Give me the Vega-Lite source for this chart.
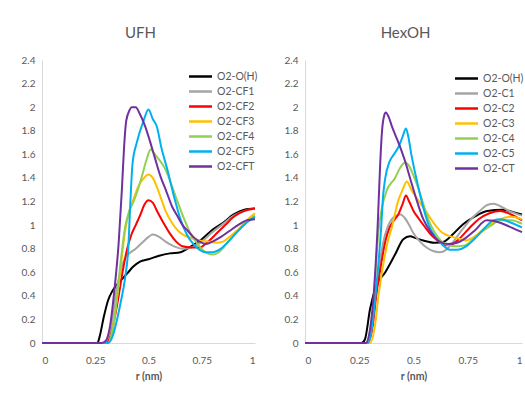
{
  "$schema": "https://vega.github.io/schema/vega-lite/v6.json",
  "padding": {"left": 5, "top": 26, "right": 3, "bottom": 5},
  "bounds": "flush",
  "spacing": 50,
  "config": {
    "view": {"stroke": null},
    "font": "Lato",
    "axis": {"grid": false, "ticks": false, "domainColor": "#D9D9D9", "domainWidth": 1, "labelColor": "#595959", "labelFontSize": 10, "titleColor": "#595959", "labelFont": "Lato", "titleFont": "Lato"},
    "title": {"fontSize": 15, "fontWeight": "normal", "color": "#595959", "font": "Lato", "offset": 14, "dx": -8},
    "legend": {"labelColor": "#595959", "labelFontSize": 10.5, "labelFont": "Lato", "symbolType": "M-1.44,0H1.44", "symbolSize": 256, "symbolStrokeWidth": 2.5, "rowPadding": 0, "labelOffset": 7, "orient": "none", "title": null}
  },
  "datasets": {
    "ufh": [
      {"s":"O2-O(H)","r":0,"g":0},{"s":"O2-O(H)","r":0.26,"g":0},{"s":"O2-O(H)","r":0.27,"g":0.05},{"s":"O2-O(H)","r":0.29,"g":0.22},{"s":"O2-O(H)","r":0.31,"g":0.36},{"s":"O2-O(H)","r":0.33,"g":0.44},{"s":"O2-O(H)","r":0.35,"g":0.49},{"s":"O2-O(H)","r":0.38,"g":0.55},{"s":"O2-O(H)","r":0.4,"g":0.59},{"s":"O2-O(H)","r":0.43,"g":0.65},{"s":"O2-O(H)","r":0.46,"g":0.69},{"s":"O2-O(H)","r":0.5,"g":0.71},{"s":"O2-O(H)","r":0.55,"g":0.74},{"s":"O2-O(H)","r":0.6,"g":0.76},{"s":"O2-O(H)","r":0.65,"g":0.77},{"s":"O2-O(H)","r":0.7,"g":0.82},{"s":"O2-O(H)","r":0.75,"g":0.88},{"s":"O2-O(H)","r":0.8,"g":0.96},{"s":"O2-O(H)","r":0.85,"g":1.02},{"s":"O2-O(H)","r":0.9,"g":1.09},{"s":"O2-O(H)","r":0.95,"g":1.13},{"s":"O2-O(H)","r":1,"g":1.14},
      {"s":"O2-CF1","r":0,"g":0},{"s":"O2-CF1","r":0.29,"g":0},{"s":"O2-CF1","r":0.31,"g":0.05},{"s":"O2-CF1","r":0.33,"g":0.2},{"s":"O2-CF1","r":0.35,"g":0.45},{"s":"O2-CF1","r":0.37,"g":0.62},{"s":"O2-CF1","r":0.39,"g":0.72},{"s":"O2-CF1","r":0.41,"g":0.76},{"s":"O2-CF1","r":0.44,"g":0.8},{"s":"O2-CF1","r":0.47,"g":0.85},{"s":"O2-CF1","r":0.5,"g":0.9},{"s":"O2-CF1","r":0.52,"g":0.92},{"s":"O2-CF1","r":0.55,"g":0.9},{"s":"O2-CF1","r":0.58,"g":0.86},{"s":"O2-CF1","r":0.62,"g":0.82},{"s":"O2-CF1","r":0.66,"g":0.8},{"s":"O2-CF1","r":0.7,"g":0.81},{"s":"O2-CF1","r":0.75,"g":0.86},{"s":"O2-CF1","r":0.8,"g":0.94},{"s":"O2-CF1","r":0.85,"g":1.01},{"s":"O2-CF1","r":0.9,"g":1.08},{"s":"O2-CF1","r":0.95,"g":1.12},{"s":"O2-CF1","r":1,"g":1.14},
      {"s":"O2-CF2","r":0,"g":0},{"s":"O2-CF2","r":0.3,"g":0},{"s":"O2-CF2","r":0.32,"g":0.05},{"s":"O2-CF2","r":0.34,"g":0.2},{"s":"O2-CF2","r":0.36,"g":0.4},{"s":"O2-CF2","r":0.38,"g":0.62},{"s":"O2-CF2","r":0.4,"g":0.8},{"s":"O2-CF2","r":0.42,"g":0.92},{"s":"O2-CF2","r":0.44,"g":1},{"s":"O2-CF2","r":0.46,"g":1.08},{"s":"O2-CF2","r":0.48,"g":1.17},{"s":"O2-CF2","r":0.5,"g":1.21},{"s":"O2-CF2","r":0.52,"g":1.19},{"s":"O2-CF2","r":0.54,"g":1.12},{"s":"O2-CF2","r":0.57,"g":1.02},{"s":"O2-CF2","r":0.6,"g":0.93},{"s":"O2-CF2","r":0.63,"g":0.86},{"s":"O2-CF2","r":0.66,"g":0.82},{"s":"O2-CF2","r":0.7,"g":0.81},{"s":"O2-CF2","r":0.74,"g":0.81},{"s":"O2-CF2","r":0.78,"g":0.86},{"s":"O2-CF2","r":0.82,"g":0.93},{"s":"O2-CF2","r":0.86,"g":1},{"s":"O2-CF2","r":0.9,"g":1.07},{"s":"O2-CF2","r":0.95,"g":1.12},{"s":"O2-CF2","r":1,"g":1.14},
      {"s":"O2-CF3","r":0,"g":0},{"s":"O2-CF3","r":0.31,"g":0},{"s":"O2-CF3","r":0.33,"g":0.1},{"s":"O2-CF3","r":0.35,"g":0.35},{"s":"O2-CF3","r":0.37,"g":0.65},{"s":"O2-CF3","r":0.39,"g":0.95},{"s":"O2-CF3","r":0.41,"g":1.12},{"s":"O2-CF3","r":0.43,"g":1.22},{"s":"O2-CF3","r":0.45,"g":1.32},{"s":"O2-CF3","r":0.47,"g":1.38},{"s":"O2-CF3","r":0.5,"g":1.43},{"s":"O2-CF3","r":0.52,"g":1.4},{"s":"O2-CF3","r":0.54,"g":1.32},{"s":"O2-CF3","r":0.56,"g":1.22},{"s":"O2-CF3","r":0.58,"g":1.12},{"s":"O2-CF3","r":0.61,"g":1.02},{"s":"O2-CF3","r":0.64,"g":0.95},{"s":"O2-CF3","r":0.67,"g":0.91},{"s":"O2-CF3","r":0.7,"g":0.89},{"s":"O2-CF3","r":0.74,"g":0.87},{"s":"O2-CF3","r":0.78,"g":0.86},{"s":"O2-CF3","r":0.82,"g":0.85},{"s":"O2-CF3","r":0.85,"g":0.86},{"s":"O2-CF3","r":0.88,"g":0.9},{"s":"O2-CF3","r":0.92,"g":0.96},{"s":"O2-CF3","r":0.96,"g":1.04},{"s":"O2-CF3","r":1,"g":1.1},
      {"s":"O2-CF4","r":0,"g":0},{"s":"O2-CF4","r":0.31,"g":0},{"s":"O2-CF4","r":0.33,"g":0.1},{"s":"O2-CF4","r":0.35,"g":0.35},{"s":"O2-CF4","r":0.37,"g":0.7},{"s":"O2-CF4","r":0.39,"g":0.98},{"s":"O2-CF4","r":0.41,"g":1.12},{"s":"O2-CF4","r":0.43,"g":1.2},{"s":"O2-CF4","r":0.45,"g":1.3},{"s":"O2-CF4","r":0.47,"g":1.42},{"s":"O2-CF4","r":0.49,"g":1.55},{"s":"O2-CF4","r":0.51,"g":1.64},{"s":"O2-CF4","r":0.53,"g":1.6},{"s":"O2-CF4","r":0.56,"g":1.53},{"s":"O2-CF4","r":0.58,"g":1.47},{"s":"O2-CF4","r":0.61,"g":1.33},{"s":"O2-CF4","r":0.64,"g":1.18},{"s":"O2-CF4","r":0.67,"g":1.04},{"s":"O2-CF4","r":0.7,"g":0.92},{"s":"O2-CF4","r":0.73,"g":0.84},{"s":"O2-CF4","r":0.76,"g":0.78},{"s":"O2-CF4","r":0.8,"g":0.75},{"s":"O2-CF4","r":0.83,"g":0.77},{"s":"O2-CF4","r":0.87,"g":0.85},{"s":"O2-CF4","r":0.91,"g":0.93},{"s":"O2-CF4","r":0.95,"g":1.01},{"s":"O2-CF4","r":1,"g":1.08},
      {"s":"O2-CF5","r":0,"g":0},{"s":"O2-CF5","r":0.31,"g":0},{"s":"O2-CF5","r":0.33,"g":0.05},{"s":"O2-CF5","r":0.35,"g":0.18},{"s":"O2-CF5","r":0.37,"g":0.35},{"s":"O2-CF5","r":0.39,"g":0.55},{"s":"O2-CF5","r":0.405,"g":0.8},{"s":"O2-CF5","r":0.415,"g":1.2},{"s":"O2-CF5","r":0.425,"g":1.52},{"s":"O2-CF5","r":0.445,"g":1.7},{"s":"O2-CF5","r":0.476,"g":1.88},{"s":"O2-CF5","r":0.5,"g":1.98},{"s":"O2-CF5","r":0.52,"g":1.9},{"s":"O2-CF5","r":0.54,"g":1.83},{"s":"O2-CF5","r":0.56,"g":1.66},{"s":"O2-CF5","r":0.59,"g":1.46},{"s":"O2-CF5","r":0.62,"g":1.24},{"s":"O2-CF5","r":0.65,"g":1.05},{"s":"O2-CF5","r":0.68,"g":0.92},{"s":"O2-CF5","r":0.71,"g":0.84},{"s":"O2-CF5","r":0.74,"g":0.79},{"s":"O2-CF5","r":0.77,"g":0.77},{"s":"O2-CF5","r":0.8,"g":0.77},{"s":"O2-CF5","r":0.84,"g":0.8},{"s":"O2-CF5","r":0.88,"g":0.87},{"s":"O2-CF5","r":0.92,"g":0.95},{"s":"O2-CF5","r":0.96,"g":1.02},{"s":"O2-CF5","r":1,"g":1.07},
      {"s":"O2-CFT","r":0,"g":0},{"s":"O2-CFT","r":0.28,"g":0},{"s":"O2-CFT","r":0.3,"g":0.02},{"s":"O2-CFT","r":0.32,"g":0.15},{"s":"O2-CFT","r":0.34,"g":0.45},{"s":"O2-CFT","r":0.36,"g":0.85},{"s":"O2-CFT","r":0.375,"g":1.3},{"s":"O2-CFT","r":0.385,"g":1.65},{"s":"O2-CFT","r":0.395,"g":1.88},{"s":"O2-CFT","r":0.41,"g":1.97},{"s":"O2-CFT","r":0.42,"g":2},{"s":"O2-CFT","r":0.44,"g":2},{"s":"O2-CFT","r":0.46,"g":1.94},{"s":"O2-CFT","r":0.484,"g":1.84},{"s":"O2-CFT","r":0.507,"g":1.71},{"s":"O2-CFT","r":0.53,"g":1.57},{"s":"O2-CFT","r":0.555,"g":1.42},{"s":"O2-CFT","r":0.585,"g":1.28},{"s":"O2-CFT","r":0.61,"g":1.16},{"s":"O2-CFT","r":0.635,"g":1.08},{"s":"O2-CFT","r":0.66,"g":1},{"s":"O2-CFT","r":0.685,"g":0.95},{"s":"O2-CFT","r":0.71,"g":0.9},{"s":"O2-CFT","r":0.74,"g":0.86},{"s":"O2-CFT","r":0.77,"g":0.84},{"s":"O2-CFT","r":0.8,"g":0.86},{"s":"O2-CFT","r":0.84,"g":0.9},{"s":"O2-CFT","r":0.88,"g":0.95},{"s":"O2-CFT","r":0.92,"g":1},{"s":"O2-CFT","r":0.96,"g":1.04},{"s":"O2-CFT","r":1,"g":1.05}
    ],
    "hex": [
      {"s":"O2-O(H)","r":0,"g":0},{"s":"O2-O(H)","r":0.26,"g":0},{"s":"O2-O(H)","r":0.276,"g":0.03},{"s":"O2-O(H)","r":0.3,"g":0.29},{"s":"O2-O(H)","r":0.33,"g":0.49},{"s":"O2-O(H)","r":0.37,"g":0.6},{"s":"O2-O(H)","r":0.415,"g":0.75},{"s":"O2-O(H)","r":0.453,"g":0.88},{"s":"O2-O(H)","r":0.484,"g":0.905},{"s":"O2-O(H)","r":0.51,"g":0.89},{"s":"O2-O(H)","r":0.545,"g":0.87},{"s":"O2-O(H)","r":0.6,"g":0.85},{"s":"O2-O(H)","r":0.64,"g":0.86},{"s":"O2-O(H)","r":0.68,"g":0.92},{"s":"O2-O(H)","r":0.73,"g":1.01},{"s":"O2-O(H)","r":0.78,"g":1.07},{"s":"O2-O(H)","r":0.84,"g":1.12},{"s":"O2-O(H)","r":0.91,"g":1.13},{"s":"O2-O(H)","r":0.96,"g":1.11},{"s":"O2-O(H)","r":1,"g":1.09},
      {"s":"O2-C1","r":0,"g":0},{"s":"O2-C1","r":0.28,"g":0},{"s":"O2-C1","r":0.3,"g":0.08},{"s":"O2-C1","r":0.32,"g":0.35},{"s":"O2-C1","r":0.34,"g":0.62},{"s":"O2-C1","r":0.36,"g":0.85},{"s":"O2-C1","r":0.38,"g":0.98},{"s":"O2-C1","r":0.4,"g":1.05},{"s":"O2-C1","r":0.42,"g":1.08},{"s":"O2-C1","r":0.44,"g":1.09},{"s":"O2-C1","r":0.46,"g":1.06},{"s":"O2-C1","r":0.48,"g":1},{"s":"O2-C1","r":0.5,"g":0.93},{"s":"O2-C1","r":0.53,"g":0.86},{"s":"O2-C1","r":0.56,"g":0.81},{"s":"O2-C1","r":0.59,"g":0.78},{"s":"O2-C1","r":0.62,"g":0.77},{"s":"O2-C1","r":0.65,"g":0.79},{"s":"O2-C1","r":0.68,"g":0.85},{"s":"O2-C1","r":0.72,"g":0.95},{"s":"O2-C1","r":0.76,"g":1.04},{"s":"O2-C1","r":0.8,"g":1.11},{"s":"O2-C1","r":0.84,"g":1.17},{"s":"O2-C1","r":0.87,"g":1.18},{"s":"O2-C1","r":0.9,"g":1.16},{"s":"O2-C1","r":0.94,"g":1.12},{"s":"O2-C1","r":1,"g":1.08},
      {"s":"O2-C2","r":0,"g":0},{"s":"O2-C2","r":0.29,"g":0},{"s":"O2-C2","r":0.31,"g":0.12},{"s":"O2-C2","r":0.33,"g":0.42},{"s":"O2-C2","r":0.35,"g":0.66},{"s":"O2-C2","r":0.37,"g":0.86},{"s":"O2-C2","r":0.39,"g":0.98},{"s":"O2-C2","r":0.41,"g":1.04},{"s":"O2-C2","r":0.43,"g":1.09},{"s":"O2-C2","r":0.45,"g":1.18},{"s":"O2-C2","r":0.465,"g":1.25},{"s":"O2-C2","r":0.48,"g":1.2},{"s":"O2-C2","r":0.5,"g":1.12},{"s":"O2-C2","r":0.522,"g":1.06},{"s":"O2-C2","r":0.55,"g":0.99},{"s":"O2-C2","r":0.58,"g":0.92},{"s":"O2-C2","r":0.61,"g":0.87},{"s":"O2-C2","r":0.65,"g":0.83},{"s":"O2-C2","r":0.68,"g":0.84},{"s":"O2-C2","r":0.72,"g":0.9},{"s":"O2-C2","r":0.76,"g":0.98},{"s":"O2-C2","r":0.8,"g":1.05},{"s":"O2-C2","r":0.85,"g":1.1},{"s":"O2-C2","r":0.9,"g":1.12},{"s":"O2-C2","r":0.95,"g":1.09},{"s":"O2-C2","r":1,"g":1.04},
      {"s":"O2-C3","r":0,"g":0},{"s":"O2-C3","r":0.3,"g":0},{"s":"O2-C3","r":0.32,"g":0.12},{"s":"O2-C3","r":0.34,"g":0.42},{"s":"O2-C3","r":0.36,"g":0.66},{"s":"O2-C3","r":0.38,"g":0.85},{"s":"O2-C3","r":0.4,"g":0.98},{"s":"O2-C3","r":0.43,"g":1.21},{"s":"O2-C3","r":0.45,"g":1.3},{"s":"O2-C3","r":0.469,"g":1.37},{"s":"O2-C3","r":0.49,"g":1.3},{"s":"O2-C3","r":0.522,"g":1.21},{"s":"O2-C3","r":0.545,"g":1.15},{"s":"O2-C3","r":0.57,"g":1.08},{"s":"O2-C3","r":0.6,"g":1},{"s":"O2-C3","r":0.63,"g":0.94},{"s":"O2-C3","r":0.66,"g":0.91},{"s":"O2-C3","r":0.7,"g":0.89},{"s":"O2-C3","r":0.74,"g":0.87},{"s":"O2-C3","r":0.78,"g":0.9},{"s":"O2-C3","r":0.82,"g":0.96},{"s":"O2-C3","r":0.86,"g":1.01},{"s":"O2-C3","r":0.9,"g":1.05},{"s":"O2-C3","r":0.95,"g":1.07},{"s":"O2-C3","r":1,"g":1.05},
      {"s":"O2-C4","r":0,"g":0},{"s":"O2-C4","r":0.29,"g":0},{"s":"O2-C4","r":0.31,"g":0.2},{"s":"O2-C4","r":0.325,"g":0.6},{"s":"O2-C4","r":0.338,"g":0.94},{"s":"O2-C4","r":0.355,"g":1.15},{"s":"O2-C4","r":0.376,"g":1.29},{"s":"O2-C4","r":0.415,"g":1.4},{"s":"O2-C4","r":0.44,"g":1.49},{"s":"O2-C4","r":0.461,"g":1.53},{"s":"O2-C4","r":0.48,"g":1.5},{"s":"O2-C4","r":0.5,"g":1.42},{"s":"O2-C4","r":0.515,"g":1.35},{"s":"O2-C4","r":0.545,"g":1.18},{"s":"O2-C4","r":0.57,"g":1.04},{"s":"O2-C4","r":0.6,"g":0.93},{"s":"O2-C4","r":0.63,"g":0.86},{"s":"O2-C4","r":0.66,"g":0.83},{"s":"O2-C4","r":0.7,"g":0.82},{"s":"O2-C4","r":0.74,"g":0.83},{"s":"O2-C4","r":0.78,"g":0.89},{"s":"O2-C4","r":0.82,"g":0.95},{"s":"O2-C4","r":0.86,"g":1},{"s":"O2-C4","r":0.9,"g":1.04},{"s":"O2-C4","r":0.95,"g":1.04},{"s":"O2-C4","r":1,"g":1.01},
      {"s":"O2-C5","r":0,"g":0},{"s":"O2-C5","r":0.29,"g":0},{"s":"O2-C5","r":0.31,"g":0.15},{"s":"O2-C5","r":0.33,"g":0.5},{"s":"O2-C5","r":0.35,"g":0.95},{"s":"O2-C5","r":0.36,"g":1.25},{"s":"O2-C5","r":0.37,"g":1.4},{"s":"O2-C5","r":0.39,"g":1.54},{"s":"O2-C5","r":0.41,"g":1.6},{"s":"O2-C5","r":0.43,"g":1.66},{"s":"O2-C5","r":0.45,"g":1.75},{"s":"O2-C5","r":0.465,"g":1.82},{"s":"O2-C5","r":0.475,"g":1.76},{"s":"O2-C5","r":0.49,"g":1.6},{"s":"O2-C5","r":0.515,"g":1.38},{"s":"O2-C5","r":0.545,"g":1.15},{"s":"O2-C5","r":0.57,"g":1},{"s":"O2-C5","r":0.6,"g":0.9},{"s":"O2-C5","r":0.63,"g":0.84},{"s":"O2-C5","r":0.668,"g":0.79},{"s":"O2-C5","r":0.7,"g":0.79},{"s":"O2-C5","r":0.75,"g":0.83},{"s":"O2-C5","r":0.79,"g":0.9},{"s":"O2-C5","r":0.83,"g":0.98},{"s":"O2-C5","r":0.868,"g":1.04},{"s":"O2-C5","r":0.9,"g":1.05},{"s":"O2-C5","r":0.95,"g":1.02},{"s":"O2-C5","r":1,"g":0.98},
      {"s":"O2-CT","r":0,"g":0},{"s":"O2-CT","r":0.28,"g":0},{"s":"O2-CT","r":0.3,"g":0.12},{"s":"O2-CT","r":0.32,"g":0.5},{"s":"O2-CT","r":0.335,"g":1},{"s":"O2-CT","r":0.346,"g":1.5},{"s":"O2-CT","r":0.355,"g":1.8},{"s":"O2-CT","r":0.365,"g":1.93},{"s":"O2-CT","r":0.372,"g":1.955},{"s":"O2-CT","r":0.385,"g":1.92},{"s":"O2-CT","r":0.4,"g":1.84},{"s":"O2-CT","r":0.415,"g":1.77},{"s":"O2-CT","r":0.445,"g":1.63},{"s":"O2-CT","r":0.465,"g":1.52},{"s":"O2-CT","r":0.484,"g":1.4},{"s":"O2-CT","r":0.515,"g":1.21},{"s":"O2-CT","r":0.545,"g":1.05},{"s":"O2-CT","r":0.58,"g":0.94},{"s":"O2-CT","r":0.62,"g":0.86},{"s":"O2-CT","r":0.66,"g":0.84},{"s":"O2-CT","r":0.7,"g":0.85},{"s":"O2-CT","r":0.74,"g":0.89},{"s":"O2-CT","r":0.78,"g":0.95},{"s":"O2-CT","r":0.837,"g":1.04},{"s":"O2-CT","r":0.9,"g":1.02},{"s":"O2-CT","r":0.95,"g":0.98},{"s":"O2-CT","r":1,"g":0.94}
    ]
  },
  "hconcat": [
    {
      "title": "UFH",
      "width": 213,
      "height": 283,
      "data": {"name": "ufh"},
      "mark": {"type": "line", "strokeWidth": 2, "interpolate": "monotone"},
      "encoding": {
        "x": {"field": "r", "type": "quantitative", "scale": {"domain": [0, 1], "nice": false}, "axis": {"values": [0, 0.25, 0.5, 0.75, 1], "labelExpr": "'' + datum.value", "title": "r (nm)", "titleFontSize": 10.5, "titleFontWeight": "bold", "labelPadding": 12, "titlePadding": 6}},
        "y": {"field": "g", "type": "quantitative", "scale": {"domain": [0, 2.4], "nice": false}, "axis": {"values": [0, 0.2, 0.4, 0.6, 0.8, 1, 1.2, 1.4, 1.6, 1.8, 2, 2.2, 2.4], "labelExpr": "'' + datum.value", "title": null, "labelPadding": 7, "minExtent": 37, "maxExtent": 37}},
        "color": {"field": "s", "type": "nominal", "sort": ["O2-O(H)", "O2-CF1", "O2-CF2", "O2-CF3", "O2-CF4", "O2-CF5", "O2-CFT"], "scale": {"domain": ["O2-O(H)", "O2-CF1", "O2-CF2", "O2-CF3", "O2-CF4", "O2-CF5", "O2-CFT"], "range": ["#000000", "#A5A5A5", "#FF0000", "#FFC000", "#92D050", "#00B0F0", "#7030A0"]}, "legend": {"legendX": 149, "legendY": 7}}
      }
    },
    {
      "title": "HexOH",
      "width": 217,
      "height": 283,
      "data": {"name": "hex"},
      "mark": {"type": "line", "strokeWidth": 2, "interpolate": "monotone"},
      "encoding": {
        "x": {"field": "r", "type": "quantitative", "scale": {"domain": [0, 1], "nice": false}, "axis": {"values": [0, 0.25, 0.5, 0.75, 1], "labelExpr": "'' + datum.value", "title": "r (nm)", "titleFontSize": 10.5, "titleFontWeight": "bold", "labelPadding": 12, "titlePadding": 6}},
        "y": {"field": "g", "type": "quantitative", "scale": {"domain": [0, 2.4], "nice": false}, "axis": {"values": [0, 0.2, 0.4, 0.6, 0.8, 1, 1.2, 1.4, 1.6, 1.8, 2, 2.2, 2.4], "labelExpr": "'' + datum.value", "title": null, "labelPadding": 7}},
        "color": {"field": "s", "type": "nominal", "sort": ["O2-O(H)", "O2-C1", "O2-C2", "O2-C3", "O2-C4", "O2-C5", "O2-CT"], "scale": {"domain": ["O2-O(H)", "O2-C1", "O2-C2", "O2-C3", "O2-C4", "O2-C5", "O2-CT"], "range": ["#000000", "#A5A5A5", "#FF0000", "#FFC000", "#92D050", "#00B0F0", "#7030A0"]}, "legend": {"legendX": 152, "legendY": 9}}
      }
    }
  ],
  "resolve": {"scale": {"color": "independent"}, "legend": {"color": "independent"}}
}
